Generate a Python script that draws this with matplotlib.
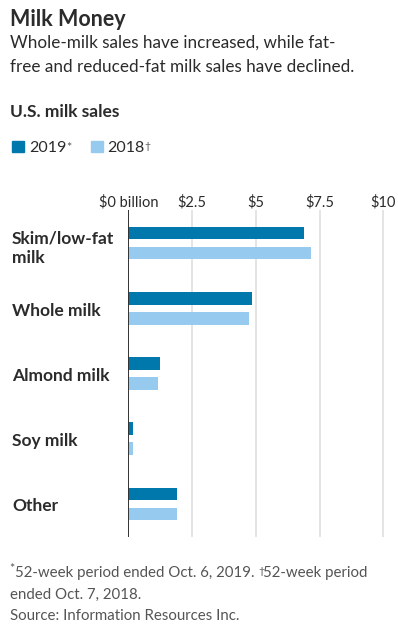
import matplotlib
matplotlib.use("Agg")
import matplotlib.pyplot as plt
from matplotlib.patches import Rectangle

categories = ["Skim/low-fat\nmilk", "Whole milk", "Almond milk", "Soy milk", "Other"]
sales_2019 = [6.88, 4.84, 1.26, 0.17, 1.90]
sales_2018 = [7.18, 4.73, 1.15, 0.17, 1.90]
tick_vals = [0, 2.5, 5, 7.5, 10]
tick_labels = ["$0 billion", "$2.5", "$5", "$7.5", "$10"]

C19 = "#0078AB"
C18 = "#96CBEF"
TXT = "#2b2b2b"
GRAY = "#555555"
FONT = "Lato"

W, H = 398, 635
fig = plt.figure(figsize=(W / 100, H / 100), dpi=100)

def fx(px):
    return px / W

def fy(py):
    return 1 - py / H

# axes placement (pixels)
x0, x1 = 128.3, 386.0
y_top, y_bot = 210, 537
ax = fig.add_axes([fx(x0), fy(y_bot), fx(x1) - fx(x0), fy(y_top) - fy(y_bot)])
xmax = (x1 - x0) / 25.5
ax.set_xlim(0, xmax)
n = len(categories)
ax.set_ylim(n - 1 + 0.508, -0.508)

bh = 0.194
off = 0.154
pos = list(range(n))
ax.barh([p - off for p in pos], sales_2019, height=bh, color=C19, zorder=3)
ax.barh([p + off for p in pos], sales_2018, height=bh, color=C18, zorder=3)

for v in tick_vals[1:]:
    ax.axvline(v, color="#e2e2e2", lw=1.3, zorder=1)
ax.axvline(0, color="#333333", lw=1.4, zorder=4)

for s in ax.spines.values():
    s.set_visible(False)
ax.set_yticks([])
ax.set_xticks(tick_vals)
ax.set_xticklabels(tick_labels, fontsize=10.5, color=TXT, family=FONT)
ax.xaxis.tick_top()
ax.tick_params(axis="x", length=0, pad=0.5)

for p, c in zip(pos, categories):
    fig.text(fx(12), fy(246 + 65 * p) if p else fy(248), c, fontsize=12.5, fontweight="bold",
             color=TXT, family=FONT, ha="left", va="center", linespacing=1.25)

# titles
fig.text(fx(10), fy(26), "Milk Money", fontsize=15.5, fontweight="bold", color=TXT,
         family=FONT, ha="left", va="baseline")
fig.text(fx(10), fy(48), "Whole-milk sales have increased, while fat-", fontsize=12.3,
         color=TXT, family=FONT, ha="left", va="baseline")
fig.text(fx(10), fy(72), "free and reduced-fat milk sales have declined.", fontsize=12.3,
         color=TXT, family=FONT, ha="left", va="baseline")
fig.text(fx(10), fy(117), "U.S. milk sales", fontsize=12.5, fontweight="bold", color=TXT,
         family=FONT, ha="left", va="baseline")

# legend
fig.patches.append(Rectangle((fx(12), fy(152)), fx(12), fy(141) - fy(152),
                             transform=fig.transFigure, color=C19))
t1 = fig.text(fx(29), fy(152), "2019", fontsize=11.5, color=TXT, family=FONT,
              ha="left", va="baseline")
ax.annotate("*", xy=(1, 1), xycoords=t1, xytext=(0, -1), textcoords="offset pixels",
            fontsize=9, color=GRAY, family=FONT, ha="left", va="top", annotation_clip=False)
fig.patches.append(Rectangle((fx(91), fy(152)), fx(12), fy(141) - fy(152),
                             transform=fig.transFigure, color=C18))
t2 = fig.text(fx(107), fy(152), "2018", fontsize=11.5, color=TXT, family=FONT,
              ha="left", va="baseline")
ax.annotate("\u2020", xy=(1, 1), xycoords=t2, xytext=(0, -1), textcoords="offset pixels",
            fontsize=7.5, color=GRAY, family=FONT, ha="left", va="top", annotation_clip=False)

# footer
fs = 10.8
fig.text(fx(9), fy(563), "*", fontsize=9, color=GRAY, family=FONT, ha="left", va="top")
b = fig.text(fx(15), fy(577), "52-week period ended Oct. 6, 2019. ", fontsize=fs,
             color=GRAY, family=FONT, ha="left", va="baseline")
ax.annotate("\u2020", xy=(1, 1), xycoords=b, xytext=(0, -1), textcoords="offset pixels",
            fontsize=7.5, color=GRAY, family=FONT, ha="left", va="top", annotation_clip=False)
ax.annotate("52-week period", xy=(1, 0), xycoords=b, xytext=(5, 0), textcoords="offset pixels",
            fontsize=fs, color=GRAY, family=FONT, ha="left", va="bottom", annotation_clip=False)
fig.text(fx(10), fy(599), "ended Oct. 7, 2018.", fontsize=fs, color=GRAY, family=FONT,
         ha="left", va="baseline")
fig.text(fx(10), fy(620), "Source: Information Resources Inc.", fontsize=fs, color=GRAY,
         family=FONT, ha="left", va="baseline")

fig.savefig("out.png", dpi=100)
